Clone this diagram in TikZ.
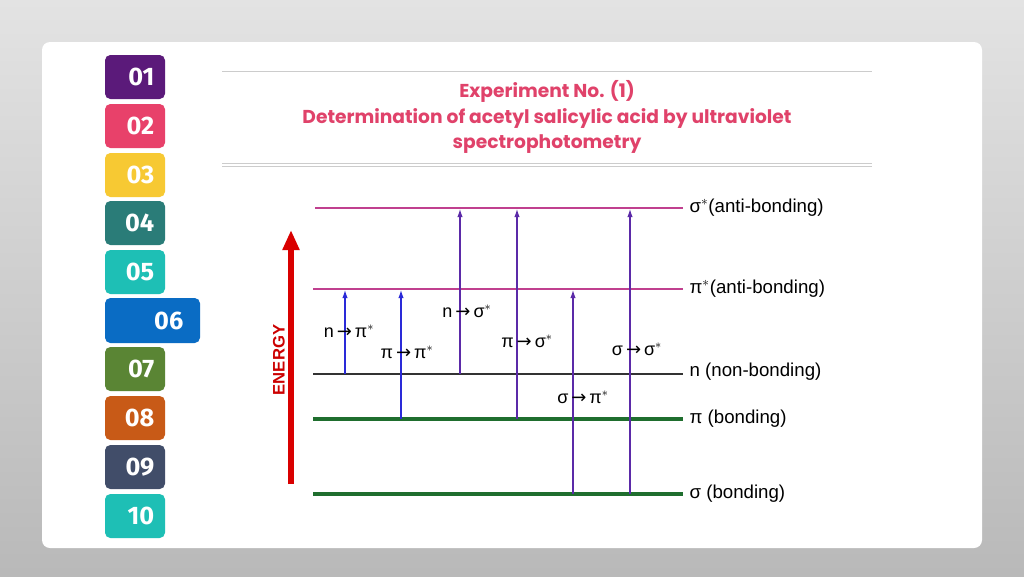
\documentclass[tikz,border=0pt]{standalone}
\usepackage{fontspec}
\setmainfont{Liberation Sans}
\newfontfamily\titlefont{Poppins}
\newfontfamily\tabfont{Fira Sans}
\newfontfamily\djv{DejaVu Sans}
\usetikzlibrary{arrows.meta}
\definecolor{ttl}{HTML}{E0426A}
\definecolor{mag}{HTML}{C0408F}
\definecolor{grn}{HTML}{1F6E2E}
\definecolor{vio}{HTML}{5B2AA8}
\definecolor{blu}{HTML}{2A2AD8}
\newcommand{\ar}{{\djv\,\char"2192\,}}
\begin{document}
\begin{tikzpicture}[x=0.75pt,y=-0.75pt,
  tabtxt/.style={text=white,font=\tabfont\bfseries\fontsize{19}{19}\selectfont,anchor=east},
  lvl/.style={line width=1pt},
  lab/.style={anchor=west,font=\fontsize{14}{14}\selectfont,inner sep=1pt},
  tr/.style={font=\fontsize{13.5}{14}\selectfont,inner sep=1pt},
  up/.style={-{Latex[length=6pt,width=4pt]},line width=0.8pt}]
\shade[top color=gray!22,bottom color=gray!55] (0,0) rectangle (1024,576);
\useasboundingbox (0,0) rectangle (1024,576);
\fill[white,rounded corners=6pt] (42,42) rectangle (982,548);
\foreach \y/\c/\t in {55/5B1A7A/01,104/E8416A/02,153/F7C933/03,201/2A7C78/04,250/1EBFB5/05,347/5A8534/07,396/C85A17/08,445/414D69/09,494/1EBFB5/10}{
  \definecolor{tc}{HTML}{\c}
  \fill[tc,rounded corners=4pt] (105,\y) rectangle (165,\y+44);
  \node[tabtxt] (t\t) at (159,\y+22) {\t};
}
\definecolor{tc}{HTML}{0A6CC4}
\fill[tc,rounded corners=4pt] (105,298) rectangle (200,343);
\node[tabtxt] (t06) at (188,320.5) {06};
\draw[gray!40] (222,71) -- (872,71);
\draw[gray!40] (222,163) -- (872,163);
\draw[gray!40] (222,166) -- (872,166);
\node[text=ttl,font=\titlefont\bfseries\fontsize{14}{19}\selectfont,align=center] (title) at (547,117) {Experiment No. (1)\\Determination of acetyl salicylic acid by ultraviolet\\spectrophotometry};
\coordinate (s1) at (315,208); \coordinate (s2) at (683,208);
\coordinate (p1) at (313,289); \coordinate (p2) at (683,289);
\coordinate (n1) at (313,374); \coordinate (n2) at (683,374);
\coordinate (b1) at (313,419); \coordinate (b2) at (683,419);
\coordinate (g1) at (313,494); \coordinate (g2) at (683,494);
\draw[mag,lvl] (s1) -- (s2);
\draw[mag,lvl] (p1) -- (p2);
\draw[black!80,lvl] (n1) -- (n2);
\draw[grn,line width=2.8pt] (b1) -- (b2);
\draw[grn,line width=2.8pt] (g1) -- (g2);
\node[lab] (ls) at (688,208) {σ$^*$(anti-bonding)};
\node[lab] (lp) at (688,289) {π$^*$(anti-bonding)};
\node[lab] (ln) at (688,372) {n (non-bonding)};
\node[lab] (lb) at (688,419) {π (bonding)};
\node[lab] (lg) at (688,494) {σ (bonding)};
\draw[up,blu] (345,374) -- (345,290);
\draw[up,blu] (401,419) -- (401,290);
\draw[up,vio] (460,374) -- (460,209);
\draw[up,vio] (517,419) -- (517,209);
\draw[up,vio] (573,494) -- (573,290);
\draw[up,vio] (630,494) -- (630,209);
\node[tr] (a1) at (349,331) {n\ar π$^*$};
\node[tr] (a2) at (407,352) {π\ar π$^*$};
\node[tr] (a3) at (467,311) {n\ar σ$^*$};
\node[tr] (a4) at (527,341) {π\ar σ$^*$};
\node[tr] (a5) at (583,397) {σ\ar π$^*$};
\node[tr] (a6) at (637,349) {σ\ar σ$^*$};
\draw[red!85!black,line width=4.5pt,-{Triangle[length=15pt,width=12pt]}] (291,484) -- (291,230);
\node[rotate=90,text=red!80!black,font=\bfseries\fontsize{12.5}{12}\selectfont] (en) at (279,360) {ENERGY};
\end{tikzpicture}
\end{document}
